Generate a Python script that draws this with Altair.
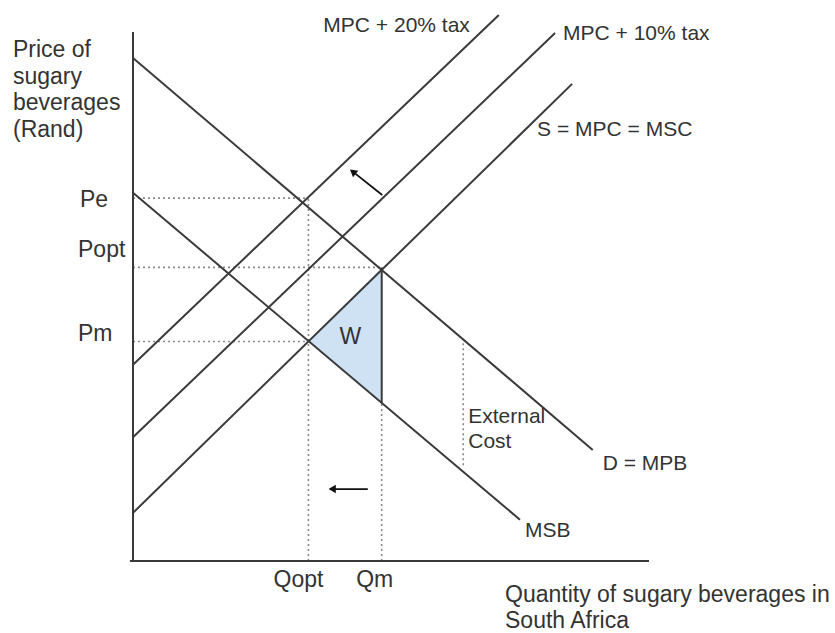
import altair as alt
import pandas as pd

# ---------------- data (quantity Q, price P on a 0-100 scale) ----------------
curve_names = ["D = MPB", "MSB", "S = MPC = MSC", "MPC + 10% tax", "MPC + 20% tax"]
q_start = [0.0, 0.0, 0.0, 0.0, 0.0]
p_start = [95.1, 69.6, 9.1, 23.4, 37.1]
q_end = [89.1, 75.0, 85.1, 81.8, 70.9]
p_end = [21.0, 7.8, 90.2, 99.8, 103.2]

price_levels = ["Pe", "Popt", "Pm"]
price_values = [68.6, 55.5, 41.5]
qty_levels = ["Qopt", "Qm"]
qty_values = [34.0, 48.2]

w_low = 29.9            # MSB value at Qm (bottom of welfare triangle)
ext_q = 64.0            # external cost marker
ext_top, ext_bottom = 41.9, 18.1

arrow_names = ["shift", "quantity"]
arrow_tail_q = [48.3, 45.5]
arrow_tail_p = [69.2, 13.6]
arrow_head_q = [42.6, 38.6]
arrow_head_p = [73.6, 13.6]

y_title = ["Price of", "sugary", "beverages", "(Rand)"]
x_title = ["Quantity of sugary beverages in", "South Africa"]

# ---------------- styling ----------------
FONT = "Liberation Sans"
TXT = "#333333"
LINE = "#3a3a3a"
DOT = "#8a8a8a"
PW, PH = 516, 529

xs = alt.Scale(domain=[0, 100], nice=False, zero=False)
ys = alt.Scale(domain=[0, 100], nice=False, zero=False)

Pe, Popt, Pm = price_values
Qopt, Qm = qty_values

# axes drawn as rules
axes_df = pd.DataFrame({"x": [0.0, -0.6], "x2": [0.0, 100.0], "y": [0.0, 0.0], "y2": [100.0, 0.0]})
axes = alt.Chart(axes_df).mark_rule(color=LINE, strokeWidth=2).encode(
    x=alt.X("x:Q", scale=xs, axis=None), x2="x2:Q",
    y=alt.Y("y:Q", scale=ys, axis=None), y2="y2:Q",
)

# curves
rows = []
for n, q0, p0, q1, p1 in zip(curve_names, q_start, p_start, q_end, p_end):
    rows.append({"curve": n, "Q": q0, "P": p0, "o": 0})
    rows.append({"curve": n, "Q": q1, "P": p1, "o": 1})
curves_df = pd.DataFrame(rows)

curves = alt.Chart(curves_df).mark_line(color=LINE, strokeWidth=2, clip=False).encode(
    x=alt.X("Q:Q", scale=xs, axis=None),
    y=alt.Y("P:Q", scale=ys, axis=None),
    detail="curve:N",
    order="o:Q",
)

# welfare triangle W
tri_df = pd.DataFrame({"Q": [Qopt, Qm], "top": [Pm, Popt], "bot": [Pm, w_low]})
tri = alt.Chart(tri_df).mark_area(color="#cfe2f3", opacity=1).encode(
    x=alt.X("Q:Q", scale=xs, axis=None),
    y=alt.Y("top:Q", scale=ys, axis=None),
    y2="bot:Q",
)
tri_edge = alt.Chart(pd.DataFrame({"Q": [Qm], "a": [w_low], "b": [Popt]})).mark_rule(
    color=LINE, strokeWidth=2).encode(
    x=alt.X("Q:Q", scale=xs, axis=None), y=alt.Y("a:Q", scale=ys, axis=None), y2="b:Q")

# dotted guide lines
dots_df = pd.DataFrame({
    "x": [0, 0, 0, Qopt, Qm, ext_q],
    "x2": [Qopt, Qm, Qopt, Qopt, Qm, ext_q],
    "y": [Pe, Popt, Pm, 0, 0, ext_bottom],
    "y2": [Pe, Popt, Pm, Pe, w_low, ext_top],
})
dots = alt.Chart(dots_df).mark_rule(color=DOT, strokeWidth=1.6, strokeDash=[2, 3]).encode(
    x=alt.X("x:Q", scale=xs, axis=None), x2="x2:Q",
    y=alt.Y("y:Q", scale=ys, axis=None), y2="y2:Q",
)

# arrows
arr_df = pd.DataFrame({"name": arrow_names, "tq": arrow_tail_q, "tp": arrow_tail_p,
                       "hq": arrow_head_q, "hp": arrow_head_p})
shafts = alt.Chart(arr_df).mark_rule(color="#111111", strokeWidth=1.8).encode(
    x=alt.X("tq:Q", scale=xs, axis=None), x2="hq:Q",
    y=alt.Y("tp:Q", scale=ys, axis=None), y2="hp:Q",
)
head1 = alt.Chart(arr_df.iloc[[0]]).mark_point(
    shape="triangle-up", angle=309, filled=True, size=70, color="#111111", opacity=1).encode(
    x=alt.X("hq:Q", scale=xs, axis=None), y=alt.Y("hp:Q", scale=ys, axis=None))
head2 = alt.Chart(arr_df.iloc[[1]]).mark_point(
    shape="triangle-left", filled=True, size=70, color="#111111", opacity=1).encode(
    x=alt.X("hq:Q", scale=xs, axis=None), y=alt.Y("hp:Q", scale=ys, axis=None))


def label(text, q, p, dx=0, dy=0, align="left", baseline="alphabetic", size=21, **kw):
    df = pd.DataFrame({"Q": [q], "P": [p], "t": [text]})
    return alt.Chart(df).mark_text(
        align=align, baseline=baseline, dx=dx, dy=dy, font=FONT, fontSize=size,
        color=TXT, **kw).encode(
        x=alt.X("Q:Q", scale=xs, axis=None), y=alt.Y("P:Q", scale=ys, axis=None),
        text="t:N")


labels = [
    # axis titles
    label("\n".join(y_title), 0, 100, dx=-120, dy=25, size=23, lineBreak="\n", lineHeight=26.5),
    label("\n".join(x_title), 0, 0, dx=372, dy=41, size=23, lineBreak="\n", lineHeight=26),
    # curve labels anchored at curve ends
    label(curve_names[4], q_end[4], p_end[4], dx=-29, dy=17, align="right"),
    label(curve_names[3], q_end[3], p_end[3], dx=8, dy=7),
    label(curve_names[2], q_end[2], p_end[2], dx=-35, dy=52),
    label(curve_names[0], q_end[0], p_end[0], dx=10, dy=20),
    label(curve_names[1], q_end[1], p_end[1], dx=5, dy=17),
    # price labels
    label(price_levels[0], 0, Pe, dx=-53, dy=2, baseline="middle", size=23),
    label(price_levels[1], 0, Popt, dx=-55, dy=-17, baseline="middle", size=23),
    label(price_levels[2], 0, Pm, dx=-55, dy=-7, baseline="middle", size=23),
    # quantity labels
    label(qty_levels[0], Qopt, 0, dx=-10, dy=26, align="center", size=23),
    label(qty_levels[1], Qm, 0, dx=-7, dy=26, align="center", size=23),
    # W and external cost
    label("W", (Qopt + 2 * Qm) / 3, (Pm + Popt + w_low) / 3, dx=-7, dy=0,
          align="center", baseline="middle", size=23),
    label("External\nCost", ext_q, ext_bottom, dx=5, dy=-42, lineBreak="\n", lineHeight=25),
]

chart = alt.layer(tri, dots, axes, curves, tri_edge, shafts, head1, head2, *labels).properties(
    width=PW, height=PH,
    autosize=alt.AutoSizeParams(type="none"),
    padding={"left": 133, "top": 32, "right": 186, "bottom": 72},
    background="white",
).configure_view(strokeWidth=0)

chart.save("out.html", embed_options={"renderer": "svg", "actions": False})
